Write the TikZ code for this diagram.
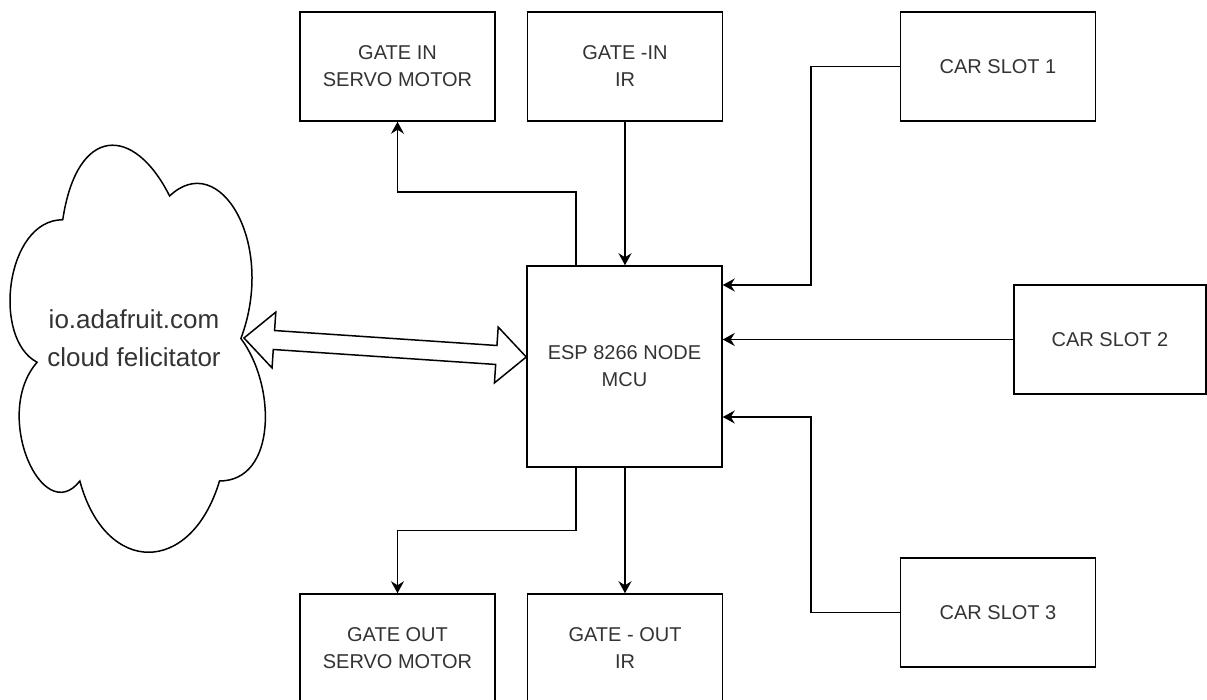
\documentclass[tikz,border=0pt]{standalone}
\usepackage{fontspec}
\setmainfont{Liberation Sans}
\usepackage{tikz}
\usetikzlibrary{arrows.meta,calc}
\definecolor{labelgray}{HTML}{333333}

\begin{document}
\begin{tikzpicture}[->,>={Stealth[length=6pt,width=6.5pt,inset=2pt]},line width=0.75pt,x=0.5pt,y=-0.5pt]
      \tikzstyle{block}=[draw,shape=rectangle,minimum width=97.5pt,minimum height=54.5pt,inner sep=0pt,align=center,text=labelgray,font=\fontsize{10}{13.5}\selectfont]

      \useasboundingbox (0,0) rectangle (1207,700);

      % cloud
      \draw[-] (62.75,219.75) .. controls (5.75,219.75) and (-8.5,338.5) .. (37.1,362.25)
        .. controls (-8.5,414.5) and (42.8,528.5) .. (79.85,481)
        .. controls (105.5,576) and (191,576) .. (219.5,481)
        .. controls (276.5,481) and (276.5,386) .. (240.9,338.5)
        .. controls (276.5,243.5) and (219.5,148.5) .. (169.6,196)
        .. controls (134,124.75) and (77,124.75) .. (62.75,219.75) -- cycle;
      \node[text=labelgray,align=center,font=\fontsize{13}{19}\selectfont] (cloud) at (134,338.5) {io.adafruit.com\\cloud felicitator};

      \node[block] (gin) at (397.5,66.5) {GATE IN\\SERVO MOTOR};
      \node[block] (girr) at (625,66.5) {GATE -IN\\IR};
      \node[block] (cs1) at (998,66.5) {CAR SLOT 1};

      \node[block,minimum height=100.5pt] (esp) at (624.5,366.5) {ESP 8266 NODE\\MCU};
      \node[block,minimum width=96pt] (cs2) at (1110,339.5) {CAR SLOT 2};
      \node[block] (cs3) at (998,612.5) {CAR SLOT 3};

      \node[block] (gout) at (397.5,648.5) {GATE OUT\\SERVO MOTOR};
      \node[block] (gour) at (625,648.5) {GATE - OUT\\IR};

      % two way link to the cloud
      \coordinate (bl) at (244,338);
      \coordinate (br) at ($(esp.west)+(0,-9.5)$);
      \draw[-,fill=white] (bl) -- ($(bl)!15pt!(br)!14pt!90:(br)$) -- ($(bl)!15pt!(br)!4.75pt!90:(br)$)
        -- ($(br)!15pt!(bl)!4.75pt!-90:(bl)$) -- ($(br)!15pt!(bl)!14pt!-90:(bl)$) -- (br)
        -- ($(br)!15pt!(bl)!14pt!90:(bl)$) -- ($(br)!15pt!(bl)!4.75pt!90:(bl)$)
        -- ($(bl)!15pt!(br)!4.75pt!-90:(br)$) -- ($(bl)!15pt!(br)!14pt!-90:(br)$) -- cycle;

      \draw ([xshift=-24.25pt]esp.north) -- ++(0,-73) -| (gin.south);
      \draw (girr.south) -- (girr.south |- esp.north);

      \draw (cs1.west) -- ++(-89,0) |- ([yshift=40.75pt]esp.east);
      \draw (cs2.west) -- (esp.east |- cs2.west);
      \draw (cs3.west) -- ++(-89,0) |- ([yshift=-25.25pt]esp.east);

      \draw ([xshift=-24.25pt]esp.south) -- ++(0,63) -| (gout.north);
      \draw (gour.north |- esp.south) -- (gour.north);

    \end{tikzpicture}
\end{document}
